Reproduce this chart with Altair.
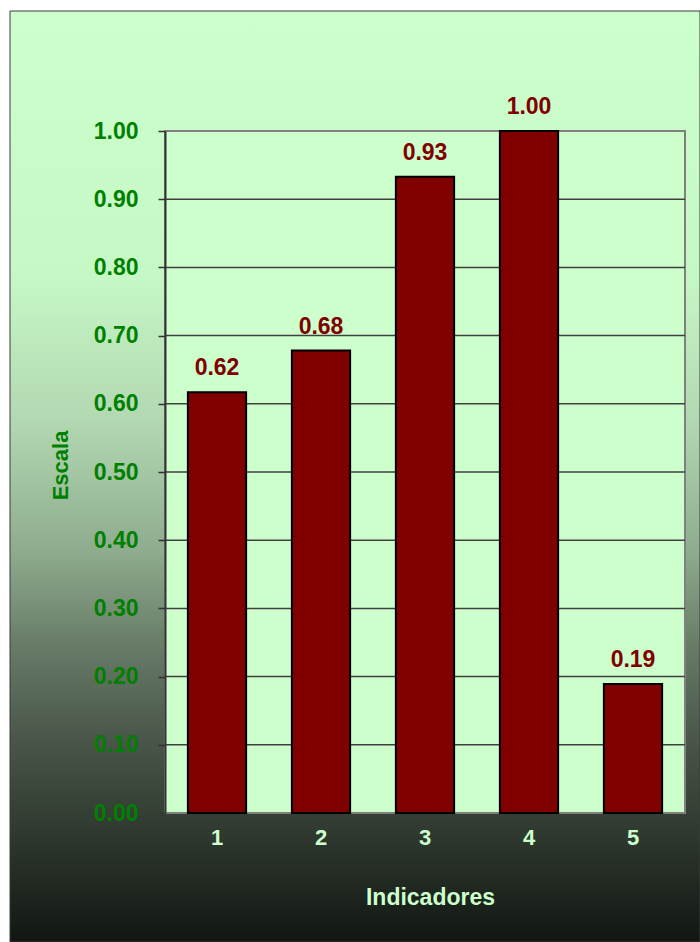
import altair as alt
import pandas as pd

# Values per indicator
indicadores = ["1", "2", "3", "4", "5"]
escala = [0.617, 0.678, 0.933, 1.0, 0.189]

# Axis tick values and inner gridline levels
y_ticks = [0.0, 0.1, 0.2, 0.3, 0.4, 0.5, 0.6, 0.7, 0.8, 0.9, 1.0]
grid_levels = [0.1, 0.2, 0.3, 0.4, 0.5, 0.6, 0.7, 0.8, 0.9]

FONT = "Liberation Sans"
W, H = 520, 682

bars_df = pd.DataFrame({"Indicadores": indicadores, "v": escala})
grid_df = pd.DataFrame({"v": grid_levels})
one = pd.DataFrame({"k": [0]})

y_scale = alt.Scale(domain=[0, 1], nice=False, zero=True)
x_scale = alt.Scale(paddingInner=0.44, paddingOuter=0.22)

y_axis = alt.Axis(
    values=y_ticks, format=".2f", grid=False, zindex=1,
    labelFont=FONT, labelFontSize=23, labelFontWeight="bold",
    labelColor="#008000", labelPadding=20,
    tickSize=7, tickColor="#333333", tickWidth=1.5,
    domainColor="#333333", domainWidth=2,
    title="Escala", titleFont=FONT, titleFontSize=22, titleFontWeight="bold",
    titleColor="#008000", titleX=-105, titleY=334, titleAngle=270,
    titleAlign="center", titleBaseline="middle",
)
x_axis = alt.Axis(
    labelAngle=0, ticks=False, tickSize=0, domain=False, grid=False, zindex=1,
    labelFont=FONT, labelFontSize=22, labelFontWeight="bold",
    labelColor="#CCFFCC", labelPadding=14,
    title="Indicadores", titleFont=FONT, titleFontSize=23, titleFontWeight="bold",
    titleColor="#CCFFCC", titleX=265, titleY=84,
    titleAlign="center", titleBaseline="middle",
)

y_enc = alt.Y("v:Q", scale=y_scale, axis=y_axis)
x_enc = alt.X("Indicadores:N", scale=x_scale, axis=x_axis, sort=indicadores)

# Outer chart area with vertical light-green to dark gradient
backdrop = alt.LinearGradient(
    gradient="linear", x1=0, x2=0, y1=0, y2=1,
    stops=[
        alt.GradientStop(color="#CCFFCC", offset=0.0),
        alt.GradientStop(color="#C6F8C6", offset=0.28),
        alt.GradientStop(color="#B2D8B2", offset=0.44),
        alt.GradientStop(color="#8EAC8E", offset=0.58),
        alt.GradientStop(color="#687C68", offset=0.68),
        alt.GradientStop(color="#4A574A", offset=0.78),
        alt.GradientStop(color="#303A30", offset=0.88),
        alt.GradientStop(color="#111611", offset=1.0),
    ],
)
frame = alt.Chart(one).mark_rect(
    fill=backdrop, stroke="#3a3a3a", strokeWidth=1
).encode(
    x=alt.value(-155), x2=alt.value(535), y=alt.value(-120), y2=alt.value(811)
)

# Plot area fill with gray border
plot_bg = alt.Chart(one).mark_rect(
    fill="#CCFFCC", stroke="#808080", strokeWidth=2
).encode(
    x=alt.value(0), x2=alt.value(W), y=alt.value(0), y2=alt.value(H)
)

grid = alt.Chart(grid_df).mark_rule(color="#404040", strokeWidth=1.5).encode(y=y_enc)

bars = alt.Chart(bars_df).mark_bar(
    color="#800000", stroke="#000000", strokeWidth=2
).encode(x=x_enc, y=y_enc)

labels = alt.Chart(bars_df).mark_text(
    dy=-17, baseline="alphabetic", font=FONT, fontSize=23,
    fontWeight="bold", color="#800000"
).encode(x=x_enc, y=y_enc, text=alt.Text("v:Q", format=".2f"))

chart = alt.layer(frame, plot_bg, grid, bars, labels).properties(
    width=W, height=H,
    autosize=alt.AutoSizeParams(type="none"),
    padding={"left": 165, "top": 131, "right": 15, "bottom": 129},
    background="white",
).configure_view(stroke=None)

chart.save("out.html", embed_options={"renderer": "svg", "actions": False})
